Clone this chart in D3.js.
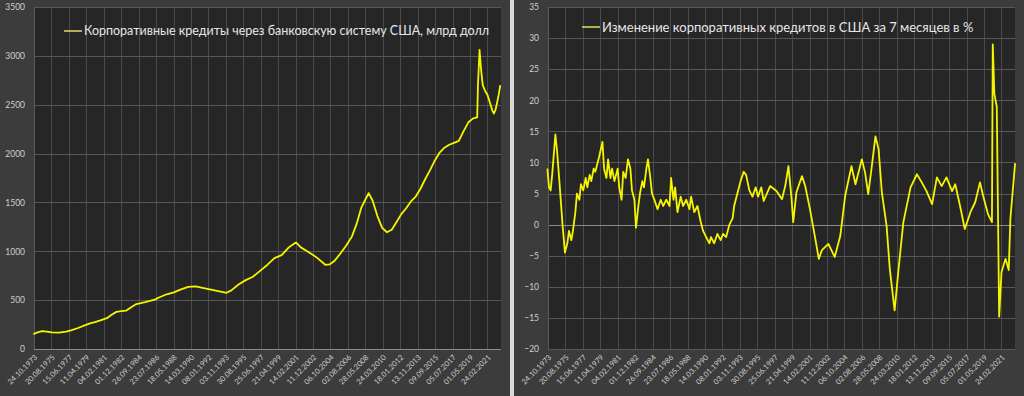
<!DOCTYPE html>
<html>
<head>
<meta charset="utf-8">
<script src="https://cdn.jsdelivr.net/npm/d3@7"></script>
<style>
  body { margin: 0; background: #d9d9d9; }
  svg { display: block; }
</style>
</head>
<body>
<div id="wrapper"></div>
<script>
// подписи оси X (каждые 95 недель)
const tickLabels = ["24.10.1973","20.08.1975","15.06.1977","11.04.1979","04.02.1981","01.12.1982",
    "26.09.1984","23.07.1986","18.05.1988","14.03.1990","08.01.1992","03.11.1993","30.08.1995",
    "25.06.1997","21.04.1999","14.02.2001","11.12.2002","06.10.2004","02.08.2006","28.05.2008",
    "24.03.2010","18.01.2012","13.11.2013","09.09.2015","05.07.2017","01.05.2019","24.02.2021"];

const leftTicks = [0, 500, 1000, 1500, 2000, 2500, 3000, 3500];
const rightTicks = [-20, -15, -10, -5, 0, 5, 10, 15, 20, 25, 30, 35];

const leftTitle = "Корпоративные кредиты через банковскую систему США, млрд долл";
const rightTitle = "Изменение корпоративных кредитов в США за 7 месяцев в %";

// кредиты, млрд долл
const loanDates = ["1973-10","1974-03","1974-09","1975-03","1975-09","1976-06","1977-03","1977-09",
    "1978-06","1979-03","1979-09","1980-03","1980-09","1981-06","1981-12","1982-06","1982-12",
    "1983-06","1984-01","1984-07","1985-06","1986-06","1986-12","1987-09","1988-06","1989-03",
    "1989-12","1990-09","1991-06","1992-06","1993-03","1993-12","1994-06","1995-03","1995-12",
    "1996-09","1997-06","1998-03","1998-12","1999-09","2000-06","2000-12","2001-03","2001-09",
    "2002-03","2002-12","2003-06","2004-04","2004-09","2005-03","2005-09","2006-06","2007-01",
    "2007-07","2008-01","2008-06","2008-10","2009-03","2009-09","2010-03","2010-09","2011-03",
    "2011-09","2012-03","2012-09","2013-03","2013-09","2014-03","2014-09","2015-03","2015-09",
    "2016-03","2016-09","2017-03","2017-09","2018-03","2018-09","2019-03","2019-09","2020-02",
    "2020-03","2020-05","2020-07","2020-09","2020-12","2021-03","2021-06","2021-09","2021-11",
    "2022-01","2022-03","2022-05","2022-07"];
const loanValues = [153,170,184,178,170,167,178,190,
    215,245,262,275,290,315,350,380,388,
    392,430,460,480,505,530,560,580,610,
    635,640,625,605,590,575,600,660,705,
    740,800,860,930,960,1040,1075,1090,1040,
    1010,965,930,860,865,900,960,1060,1150,
    1280,1450,1530,1595,1520,1360,1240,1195,1220,
    1300,1380,1440,1510,1560,1640,1740,1830,1930,
    2010,2060,2090,2110,2130,2230,2320,2360,2370,
    2700,3060,2850,2700,2640,2600,2520,2440,2410,
    2450,2520,2600,2700];

// изменение за 7 месяцев, %
const changeDates = ["1973-10","1973-12","1974-02","1974-04","1974-08","1974-10","1975-01","1975-05",
    "1975-08","1975-11","1976-01","1976-04","1976-06","1976-09","1976-11","1977-02","1977-04",
    "1977-07","1977-10","1977-12","1978-03","1978-05","1978-08","1978-10","1979-01","1979-03",
    "1979-07","1979-09","1979-12","1980-02","1980-05","1980-07","1980-10","1981-02","1981-04",
    "1981-07","1981-09","1981-12","1982-03","1982-06","1982-08","1982-11","1983-01","1983-04",
    "1983-06","1983-09","1983-11","1984-02","1984-04","1984-07","1984-09","1984-12","1985-04",
    "1985-08","1985-11","1986-03","1986-07","1986-09","1986-12","1987-02","1987-05","1987-09",
    "1987-12","1988-04","1988-08","1988-10","1989-02","1989-06","1989-10","1990-01","1990-05",
    "1990-09","1990-11","1991-03","1991-07","1991-11","1992-02","1992-06","1992-10","1993-02",
    "1993-04","1993-08","1993-12","1994-04","1994-07","1994-11","1995-03","1995-07","1995-10",
    "1996-02","1996-05","1997-01","1997-09","1998-04","1998-08","1998-12","1999-04","1999-06",
    "1999-10","2000-05","2000-09","2001-03","2001-09","2002-02","2002-06","2003-02","2003-10",
    "2004-05","2004-11","2005-07","2005-12","2006-08","2006-12","2007-04","2007-08","2008-01",
    "2008-05","2008-09","2009-03","2009-07","2010-01","2010-06","2010-12","2011-09","2012-05",
    "2012-11","2013-05","2013-12","2014-06","2014-12","2015-06","2016-01","2016-05","2016-11",
    "2017-05","2017-12","2018-06","2018-12","2019-04","2019-10","2020-03","2020-04","2020-06",
    "2020-09","2020-12","2021-03","2021-08","2021-12","2022-02","2022-08"];
const changeValues = [9,6,5.5,8,14.5,12,7,0,
    -4.5,-3,-1,-2.5,-1,2,5,4,6.5,
    5.5,7.5,6,8,7,9,8.5,10,11,
    13.3,9,7.5,10.5,7.5,9,7,9,6,
    4,8.5,7.5,10.5,9,5.5,4,-0.5,3,
    5,7,6,9,10.5,7.5,5,4,2.5,
    4,3,4,3,7.5,4,6,2,4.5,
    3,4,2.5,4.5,2,3,0.5,-1,-2,
    -3,-2,-3,-1.5,-2.5,-1.5,-2,0,1,
    3,5,7,8.5,8,5.5,4.5,6,4.5,
    6,3.8,6.2,5.4,4.1,6.2,9.4,4.1,0.4,
    5.2,7.8,6.2,2.5,-1.8,-5.5,-4.1,-3.1,-5.2,
    -1.8,4.6,9.4,6.5,10.5,8.4,4.9,8.9,14.2,
    12.1,5.2,-0.2,-7.1,-13.8,-7.1,0.4,6,8.1,
    6.8,5.4,3.3,7.6,6.2,7.6,5.4,6.5,3,
    -0.7,2,3.6,6.8,4.6,1.7,0.4,29,21,
    19,-14.8,-7.6,-5.5,-7.3,0.9,9.9];

const parseMonth = d3.timeParse("%Y-%m");
const parseTick = d3.timeParse("%d.%m.%Y");
const startDate = parseTick(tickLabels[0]);
const endDate = new Date(2022, 6, 28);

const svg = d3.select("#wrapper").append("svg")
    .attr("width", 1024)
    .attr("height", 396);

function drawPanel(opt) {
    const g = svg.append("g");
    // фон панели
    g.append("rect")
        .attr("x", opt.left).attr("y", 0)
        .attr("width", opt.width).attr("height", 396)
        .attr("fill", "#3c3c3c");

    const plot = opt.plot;
    const xScaler = d3.scaleTime()
        .domain([startDate, endDate])
        .range([plot.x0, plot.x1]);
    const yScaler = d3.scaleLinear()
        .domain(d3.extent(opt.yTicks))
        .range([plot.y1, plot.y0]);

    g.append("rect")
        .attr("x", plot.x0).attr("y", plot.y0)
        .attr("width", plot.x1 - plot.x0).attr("height", plot.y1 - plot.y0)
        .attr("fill", "#262626");

    // вертикальная сетка
    g.append("g").selectAll("line")
        .data(tickLabels.slice(1))
        .join("line")
        .attr("x1", d => Math.round(xScaler(parseTick(d))) + 0.5)
        .attr("x2", d => Math.round(xScaler(parseTick(d))) + 0.5)
        .attr("y1", plot.y0).attr("y2", plot.y1)
        .attr("stroke", "#4a4a4a");

    // горизонтальная сетка
    g.append("g").selectAll("line")
        .data(opt.yTicks)
        .join("line")
        .attr("x1", plot.x0).attr("x2", plot.x1)
        .attr("y1", d => Math.round(yScaler(d)) + 0.5)
        .attr("y2", d => Math.round(yScaler(d)) + 0.5)
        .attr("stroke", d => d === opt.axisAt ? "#8a8a8a" : "#575757");

    // левая ось
    g.append("line")
        .attr("x1", plot.x0 + 0.5).attr("x2", plot.x0 + 0.5)
        .attr("y1", plot.y0).attr("y2", plot.y1)
        .attr("stroke", "#5a5a5a");

    const yAxisGenerator = d3.axisLeft(yScaler)
        .tickValues(opt.yTicks)
        .tickFormat(d3.format("d"))
        .tickSize(0)
        .tickPadding(opt.yPad);
    const yAxis = g.append("g")
        .attr("transform", `translate(${plot.x0},0)`)
        .call(yAxisGenerator);
    yAxis.select(".domain").remove();
    yAxis.selectAll("text")
        .attr("fill", "#cfcfcf")
        .style("font-family", "Lato, 'Open Sans', sans-serif")
        .style("font-size", "8.5px");

    // подписи дат под 45°
    g.append("g").selectAll("text")
        .data(tickLabels)
        .join("text")
        .attr("transform", d => `translate(${xScaler(parseTick(d)) + 2},${plot.y1 + 7}) rotate(-45)`)
        .attr("text-anchor", "end")
        .attr("dy", "0.35em")
        .attr("fill", "#cfcfcf")
        .style("font-family", "Lato, 'Open Sans', sans-serif")
        .style("font-size", "7.5px")
        .text(d => d);

    const lineGenerator = d3.line()
        .x((d, i) => xScaler(parseMonth(opt.dates[i])))
        .y(d => yScaler(d));

    g.append("path")
        .attr("d", lineGenerator(opt.values))
        .attr("fill", "none")
        .attr("stroke", "#f5f500")
        .attr("stroke-width", 1.8)
        .attr("stroke-linejoin", "round");

    // легенда
    g.append("line")
        .attr("x1", opt.legend.x).attr("x2", opt.legend.x + 18)
        .attr("y1", opt.legend.y).attr("y2", opt.legend.y)
        .attr("stroke", "#e0e060")
        .attr("stroke-width", 1.5);
    g.append("text")
        .attr("x", opt.legend.x + 20)
        .attr("y", opt.legend.y)
        .attr("dy", "0.35em")
        .attr("fill", "#e6e6e6")
        .style("font-family", "Lato, 'Open Sans', sans-serif")
        .style("font-size", opt.legend.size)
        .text(opt.title);
}

drawPanel({
    left: 0, width: 510,
    plot: { x0: 34, x1: 501, y0: 7, y1: 349 },
    yTicks: leftTicks, yPad: 9, axisAt: 0,
    dates: loanDates, values: loanValues,
    legend: { x: 64, y: 31, size: "12.5px" },
    title: leftTitle
});

drawPanel({
    left: 514, width: 510,
    plot: { x0: 548, x1: 1015, y0: 7, y1: 349 },
    yTicks: rightTicks, yPad: 9, axisAt: 0,
    dates: changeDates, values: changeValues,
    legend: { x: 582, y: 27, size: "13px" },
    title: rightTitle
});
</script>
</body>
</html>
